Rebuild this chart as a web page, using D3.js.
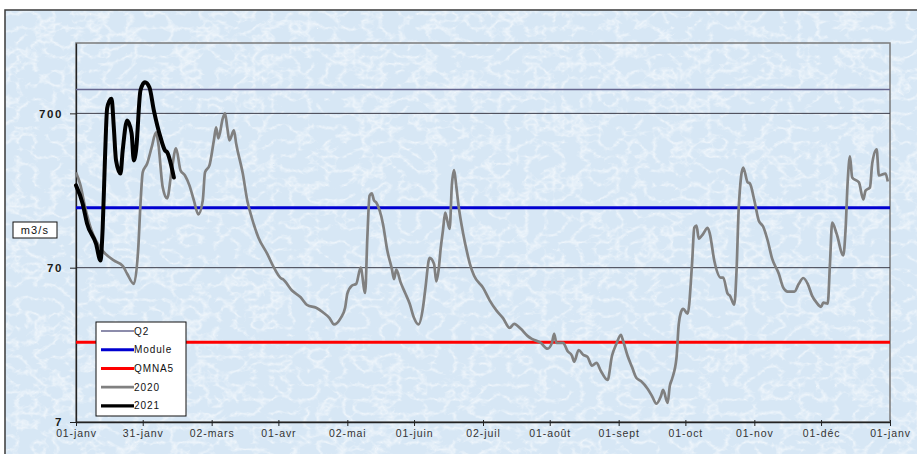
<!DOCTYPE html>
<html>
<head>
<meta charset="utf-8">
<script src="https://cdn.jsdelivr.net/npm/d3@7/dist/d3.min.js"></script>
<style>
  html, body { margin: 0; padding: 0; background: #ffffff; }
  svg { display: block; font-family: "Liberation Sans", Arial, sans-serif; }
</style>
</head>
<body>
<script>
// ---- Débits journaliers (m3/s), jour = nombre de jours depuis le 1er janvier ----
const days2020 = [0,2,4,7,9,12,17,21,23,26,28,29,30,32,34,36,37,39,41,43,45,47,49,51,53,55,57,58,60,62,63,64,66,67,68,69,71,72,75,77,79,82,86,89,92,93,97,101,104,108,111,114,116,119,121,122,124,126,128,130,131,132,133,134,135,138,140,142,143,144,146,148,150,152,154,156,157,159,161,162,163,164,165,166,167,168,169,170,171,172,174,176,177,179,183,186,189,192,195,197,200,203,205,209,212,214,215,216,219,221,223,224,226,228,230,232,234,236,239,241,243,245,246,248,250,252,254,257,259,261,263,264,266,267,268,270,271,272,273,275,277,278,279,280,282,284,285,287,290,291,293,294,296,297,298,300,302,303,305,307,309,311,313,316,318,320,323,325,327,329,331,333,335,336,338,339,340,342,345,346,347,348,349,352,354,355,357,358,360,361,364,365];
const flow2020 = [290,240,175,122,105,90,78,72,64,55,94,182,290,331,421,527,447,232,197,299,415,299,277,239,191,155,191,290,322,468,568,482,649,700,568,468,543,447,285,191,148,110,86,70,60,59,50,45,40,38.5,36,33,30,33,38.5,47.5,53.5,55,70,48,110,205,212,191,185,135,90,69,59,68,56,48,41,33,30,38.5,50,81,74,57,67,94,122,159,140,125,240,300,235,177,118,86,75,62,52,43,37,33,28.5,30.3,28.1,25.3,24.2,22.8,20.9,22.8,26.1,22.8,22.8,20.2,18.8,17.2,20.5,19.1,18.5,16.2,16.9,15.0,13.1,18.8,22.5,25.7,23.5,18.8,15.9,13.5,12.9,11.5,10.3,9.2,10.3,11.3,9.3,12.0,13.3,18.2,30,36,37.9,35.2,74.3,127,131,108,116,127,116,77.7,60.3,60.3,47.5,46.1,40.3,66.9,172,312,250,246,191,141,129,105,80,64,52,49,49,55,60,55,46,41.5,39,41.5,41,74,137,116,84,122,257,368,269,250,194,221,232,331,409,277,285,253];

const days2021 = [0,3,5,9,11,12,13,14,15,16,17,18,20,21,23,25,26,27,29,31,33,35,38,40,41,44];
const flow2021 = [239,182,135,100,78,127,347,755,840,870,568,347,285,403,630,519,347,403,988,1113,1033,732,489,403,391,269];

// Débits de référence
const refNames  = ["Q2", "Module", "QMNA5"];
const refValues = [1000, 171, 23];

// Axes
const yTicks = [7, 70, 700];
const yTickLabels = ["7", "70", "700"];
const xTickDates = ["2020-01-01","2020-01-31","2020-03-02","2020-04-01","2020-05-02","2020-06-01","2020-07-02","2020-08-01","2020-09-01","2020-10-01","2020-11-01","2020-12-01","2021-01-01"];
const xTickLabels = ["01-janv","31-janv","02-mars","01-avr","02-mai","01-juin","02-juil","01-août","01-sept","01-oct","01-nov","01-déc","01-janv"];
const legendNames = ["Q2", "Module", "QMNA5", "2020", "2021"];
const unitLabel = "m3/s";

// ---- Styles ----
const styles = {
  Q2:     { color: "#66668f", width: 1.6 },
  Module: { color: "#0000d0", width: 3 },
  QMNA5:  { color: "#ff0000", width: 3 },
  "2020": { color: "#808080", width: 2.7 },
  "2021": { color: "#000000", width: 4 }
};

const W = 917, H = 454;
const plot = { left: 76, top: 43, right: 890, bottom: 422 };

const svg = d3.select("body").append("svg").attr("width", W).attr("height", H);
const defs = svg.append("defs");

// crumpled-paper texture: fine light veins over a pale blue ground
const f = defs.append("filter").attr("id", "mottle")
  .attr("x", 0).attr("y", 0).attr("width", "100%").attr("height", "100%");
f.append("feTurbulence").attr("type", "turbulence")
  .attr("baseFrequency", "0.055 0.07").attr("numOctaves", 3).attr("seed", 11).attr("result", "n");
f.append("feColorMatrix").attr("in", "n").attr("type", "matrix")
  .attr("values", "0 0 0 0 1  0 0 0 0 1  0 0 0 0 1  -2.0 0 0 0 0.6");

const parse = d3.utcParse("%Y-%m-%d");
const start = parse("2020-01-01");
const end = parse("2021-01-01");

// background of the chart area
svg.append("rect").attr("x", 5).attr("y", 10).attr("width", W).attr("height", H)
  .attr("fill", "#d7e7f5");
svg.append("rect").attr("x", 5).attr("y", 10).attr("width", W).attr("height", H)
  .attr("fill", "#ffffff").attr("filter", "url(#mottle)");
svg.append("rect").attr("x", 5).attr("y", 10).attr("width", W).attr("height", H)
  .attr("fill", "none").attr("stroke", "#3a3a3a").attr("stroke-width", 1.5);

const x = d3.scaleUtc().domain([start, end]).range([plot.left, plot.right]);
const y = d3.scaleLog().domain([7, 2000]).range([plot.bottom, plot.top]);

// plot frame
svg.append("rect").attr("x", plot.left).attr("y", plot.top)
  .attr("width", plot.right - plot.left).attr("height", plot.bottom - plot.top)
  .attr("fill", "none").attr("stroke", "#7a7a7a").attr("stroke-width", 1.5);

// horizontal gridlines
svg.append("g").selectAll("line").data(yTicks.slice(1)).join("line")
  .attr("x1", plot.left).attr("x2", plot.right)
  .attr("y1", d => y(d)).attr("y2", d => y(d))
  .attr("stroke", "#3c3c48").attr("stroke-width", 1);

// y axis
const yAxis = d3.axisLeft(y).tickValues(yTicks)
  .tickFormat((d, i) => yTickLabels[i]).tickSizeInner(6).tickSizeOuter(0).tickPadding(7);
const gy = svg.append("g").attr("transform", `translate(${plot.left},0)`).call(yAxis);
gy.select(".domain").attr("stroke", "#222").attr("stroke-width", 1.3);
gy.selectAll(".tick line").attr("stroke", "#222");
gy.selectAll("text").attr("font-size", 11.5).attr("font-weight", "bold")
  .attr("fill", "#1a1a1a").attr("letter-spacing", 1.6);

// x axis
const xAxis = d3.axisBottom(x).tickValues(xTickDates.map(parse))
  .tickFormat((d, i) => xTickLabels[i]).tickSizeInner(4).tickSizeOuter(0).tickPadding(4);
const gx = svg.append("g").attr("transform", `translate(0,${plot.bottom})`).call(xAxis);
gx.select(".domain").attr("stroke", "#222").attr("stroke-width", 1.3);
gx.selectAll(".tick line").attr("stroke", "#222").attr("y1", -2);
gx.selectAll("text").attr("font-size", 10.5).attr("fill", "#333")
  .attr("letter-spacing", 0.9);

// reference flows
refNames.forEach((name, i) => {
  svg.append("line")
    .attr("x1", plot.left).attr("x2", plot.right)
    .attr("y1", y(refValues[i])).attr("y2", y(refValues[i]))
    .attr("stroke", styles[name].color).attr("stroke-width", styles[name].width);
});

// daily flow series
const line = d3.line()
  .x(d => x(d3.utcDay.offset(start, d[0])))
  .y(d => y(d[1]))
  .curve(d3.curveMonotoneX);

const s2020 = days2020.map((d, i) => [d, flow2020[i]]);
const s2021 = days2021.map((d, i) => [d, flow2021[i]]);

svg.append("path").datum(s2020).attr("d", line)
  .attr("fill", "none").attr("stroke", styles["2020"].color)
  .attr("stroke-width", styles["2020"].width).attr("stroke-linejoin", "round");
svg.append("path").datum(s2021).attr("d", line)
  .attr("fill", "none").attr("stroke", styles["2021"].color)
  .attr("stroke-width", styles["2021"].width).attr("stroke-linejoin", "round")
  .attr("stroke-linecap", "round");

// unit label
const ug = svg.append("g");
ug.append("rect").attr("x", 13).attr("y", 222).attr("width", 44).attr("height", 16)
  .attr("fill", "#ffffff").attr("stroke", "#111").attr("stroke-width", 1);
ug.append("text").attr("x", 35).attr("y", 234).attr("text-anchor", "middle")
  .attr("font-size", 11).attr("letter-spacing", 1.2).attr("fill", "#111").text(unitLabel);

// legend
const lg = svg.append("g");
lg.append("rect").attr("x", 96).attr("y", 322).attr("width", 90).attr("height", 94)
  .attr("fill", "#ffffff").attr("stroke", "#111").attr("stroke-width", 1);
legendNames.forEach((name, i) => {
  const yy = 331 + i * 18.7;
  lg.append("line").attr("x1", 101).attr("x2", 134).attr("y1", yy).attr("y2", yy)
    .attr("stroke", styles[name].color)
    .attr("stroke-width", Math.min(styles[name].width, 3.2));
  lg.append("text").attr("x", 134).attr("y", yy + 3.6)
    .attr("font-size", 10).attr("letter-spacing", 0.9).attr("fill", "#111").text(name);
});
</script>
</body>
</html>
